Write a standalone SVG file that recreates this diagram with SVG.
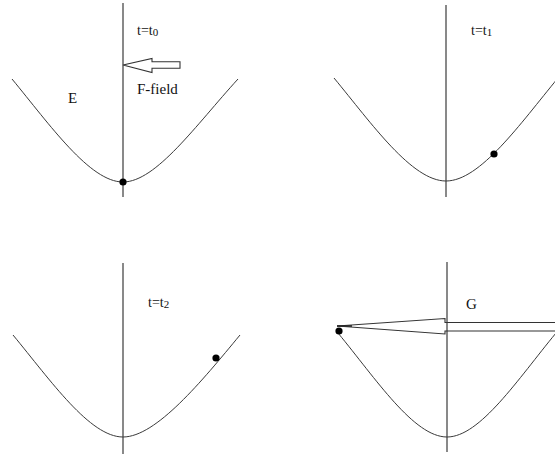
<svg xmlns="http://www.w3.org/2000/svg" width="555" height="454" viewBox="0 0 555 454">
<style>
.axis{stroke:#4a4a4a;stroke-width:1.3;fill:none}
.curve{stroke:#3a3a3a;stroke-width:1;fill:none}
.arrow{stroke:#333;stroke-width:1.1;fill:#fff}
.arrow2{stroke:#333;stroke-width:1.1;fill:none}
.dot{fill:#000}
text{font-family:"Liberation Serif","Times New Roman",serif;fill:#111}
.t{font-size:14px}
.lbl{font-size:15px}
</style>
<rect width="555" height="454" fill="#fff"/>
<g id="panel-t0">
<line class="axis" x1="123" y1="3" x2="123" y2="197"/>
<path class="curve" d="M12,79 C50,125 90,182 123,182 S196,125 238,79"/>
<circle class="dot" cx="123" cy="182" r="3.6"/>
<text class="t" x="137" y="35">t=t<tspan font-size="11" dy="1">0</tspan></text>
<text class="lbl" x="68" y="103">E</text>
<text class="lbl" x="137" y="94">F-field</text>
<polygon class="arrow" points="123,65 152,58.5 152,61.7 180,61.7 180,68.3 152,68.3 152,72.5"/>
</g>
<g id="panel-t1">
<line class="axis" x1="446" y1="5" x2="446" y2="197"/>
<path class="curve" d="M334,78 C372,124 412,181 446,181 S520,124 558,78"/>
<circle class="dot" cx="494" cy="154" r="3.6"/>
<text class="t" x="471" y="35">t=t<tspan font-size="11" dy="1">1</tspan></text>
</g>
<g id="panel-t2">
<line class="axis" x1="123" y1="263" x2="123" y2="454"/>
<path class="curve" d="M13,335 C51,381 90,437 123,437 S202,381 240,335"/>
<circle class="dot" cx="216" cy="358" r="3.6"/>
<text class="t" x="148" y="307">t=t<tspan font-size="11" dy="1">2</tspan></text>
</g>
<g id="panel-G">
<line class="axis" x1="447" y1="262" x2="447" y2="452"/>
<path class="curve" d="M338,333 C376,379 414,437 447,437 S518,379 556,333"/>
<circle class="dot" cx="339" cy="331" r="3.6"/>
<text class="lbl" x="466" y="309">G</text>
<polygon class="arrow2" points="337,326 445,318.5 445,322.5 556,322.5 556,331 445,331 445,334"/>
<line stroke="#222" stroke-width="1.6" x1="337" y1="326" x2="352" y2="326"/>
</g>
</svg>
